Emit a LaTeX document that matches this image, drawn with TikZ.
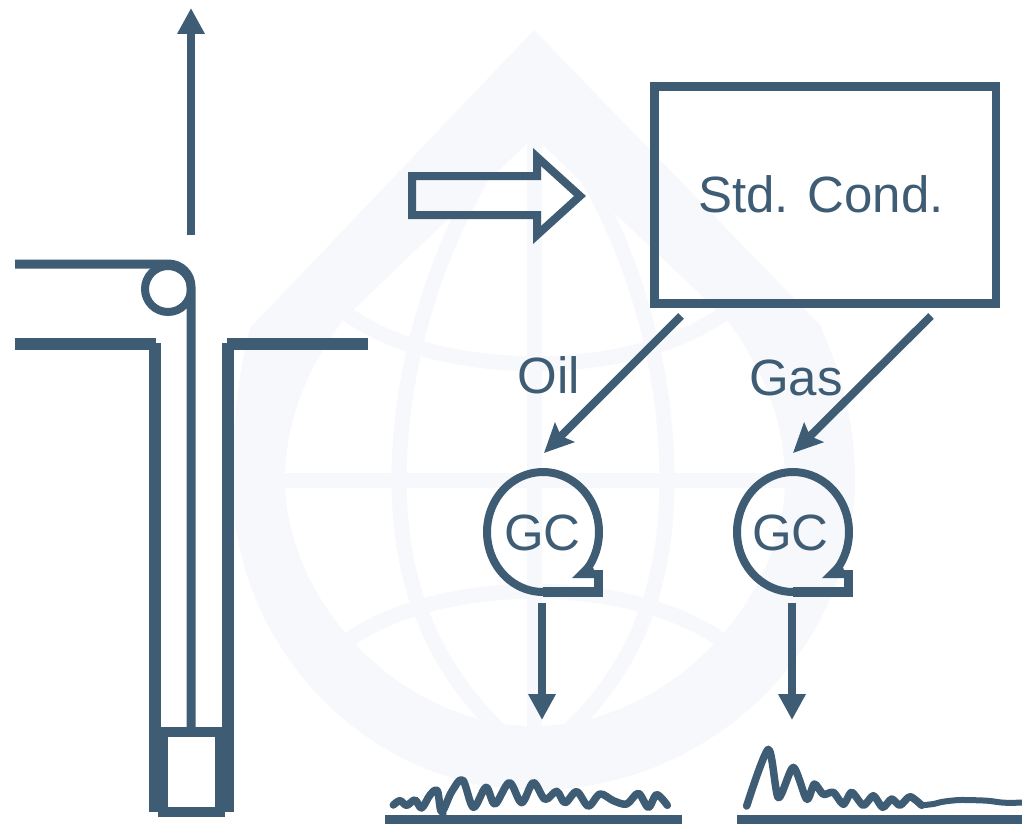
\documentclass[tikz,border=0pt]{standalone}
\usepackage{fontspec}
\setmainfont{Liberation Sans}
\usetikzlibrary{arrows.meta,calc}
\definecolor{ink}{HTML}{3E5C74}
\definecolor{faint}{HTML}{F7F8FB}
\tikzset{
  pipe/.style={draw=ink,line width=#1},
  pipe/.default=9,
  flow/.style={draw=ink,line width=8,-{Triangle[length=26,width=26]}},
  slant/.style={draw=ink,line width=8,-{Stealth[length=29,width=27,inset=5]}},
  trace/.style={draw=ink,line width=#1,line join=round,line cap=round},
  trace/.default=7.5,
  lbl/.style={text=ink,font=\fontsize{51}{52}\selectfont,inner sep=0},
  band/.style={draw=faint,line width=15}
}
\begin{document}
\begin{tikzpicture}[x=1pt,y=-1pt]
\useasboundingbox (0,0) rectangle (1022,824);
% watermark
\fill[faint] (534,30) -- (250,328) .. controls (238,375) and (232,430) .. (232,480)
  .. controls (232,650) and (370,790) .. (535,790)
  .. controls (710,790) and (855,650) .. (855,480)
  .. controls (855,420) and (840,370) .. (820,325) -- cycle;
\begin{scope}
\clip (534,137) -- (345,318) .. controls (305,370) and (285,425) .. (285,480)
  .. controls (285,600) and (400,726) .. (534,726)
  .. controls (668,726) and (785,600) .. (785,480)
  .. controls (785,425) and (765,370) .. (725,318) -- cycle;
\fill[white] (200,100) rectangle (900,760);
\draw[band] (534,100) -- (534,760);
\draw[band] (200,480) -- (900,480);
\draw[band] (534,100) .. controls (430,230) and (399,380) .. (399,480) .. controls (399,580) and (430,680) .. (534,760);
\draw[band] (534,100) .. controls (640,230) and (667,380) .. (667,480) .. controls (667,580) and (640,680) .. (534,760);
\draw[band] (330,300) .. controls (420,385) and (650,385) .. (740,300);
\draw[band] (330,655) .. controls (420,570) and (650,570) .. (740,655);
\end{scope}
% well
\node (tophook) at (168,289) [circle,draw=ink,line width=8,minimum size=46,inner sep=0] {};
\coordinate (upstart) at (191,235);
\coordinate (uptip) at (191,8);
\draw[flow,line width=8.5] (upstart) -- (uptip);
\draw[pipe] (15,264) -- (168,264) .. controls (181,264) and (191,274) .. (191,287) -- (191,732);
\draw[pipe=12] (15,344) -- (156,344);
\draw[pipe=12] (155,343) -- (155,812);
\draw[pipe=12] (228,343) -- (228,812);
\draw[pipe=12] (227,344) -- (368,344);
\node (packer) at (191.5,771.5) [draw=ink,line width=10,minimum width=57,minimum height=80,inner sep=0] {};
% block arrow
\draw[draw=ink,line width=8,fill=none] (412,176) -- (537,176) -- (537,157) -- (580,196) -- (537,235) -- (537,215) -- (412,215) -- cycle;
% box
\node (box) at (825.25,195) [draw=ink,line width=8.5,minimum width=341.5,minimum height=217,inner sep=0] {};
\node (boxlabel) at (821,194) [lbl] {Std. Cond.};
% pumps
\foreach \nm/\dx/\tx in {one/0/542.5,two/250/540.5}{
\begin{scope}[shift={(\dx,0)}]
\draw[draw=ink,line width=10,line join=miter] (543,592) -- (598.5,592);
\draw[draw=ink,line width=9] (598.5,597) -- (598.5,570);
\draw[draw=ink,line width=8] plot[domain=90:402,samples=70] ({543+56*cos(\x)},{532+60*sin(\x)});
\fill[ink] (572,578) -- (594,578) -- (594,570) -- (590,560) -- cycle;
\node (gc\nm) at (\tx,533) [lbl] {GC};
\coordinate (gcout\nm) at (542,603);
\coordinate (gctip\nm) at (542,720);
\draw[flow] (gcout\nm) -- (gctip\nm);
\end{scope}
}
\fill[ink] (385,814.5) rectangle (682,824);
\fill[ink] (737,814.5) rectangle (1022,824);
\coordinate (oilstart) at (681,316);
\coordinate (oiltip) at (544,453);
\coordinate (gasstart) at (931,316);
\coordinate (gastip) at (793,453);
\draw[slant] (oilstart) -- (oiltip);
\draw[slant] (gasstart) -- (gastip);
\node (oil) at (549,375) [lbl] {Oil};
\node (gas) at (796,378) [lbl] {Gas};
% chromatograms
\begin{scope}[shift={(380,730)},scale=1/3]
\draw[trace] plot[smooth,tension=0.55] coordinates {(40,225)(60,212)(80,226)(105,210)(125,234)(150,195)(172,182)(185,245)(215,185)(248,150)(280,232)(318,172)(345,222)(388,158)(425,218)(460,158)(495,208)(530,184)(555,218)(590,185)(625,228)(660,192)(700,212)(740,222)(775,190)(805,232)(830,194)(862,226)};
\draw[ink,line width=7] (186,240) -- (190,256);
\end{scope}
\begin{scope}[shift={(720,730)},scale=1/3]
\draw[trace=7.5] plot[smooth,tension=0.45] coordinates {(80,228)(145,58)(175,203)(220,112)(260,208)(283,162)(310,193)(340,187)(370,223)(395,187)(430,226)(460,197)(488,232)(515,207)(540,226)(570,200)(605,226)};
\draw[trace=6] plot[smooth,tension=0.45] coordinates {(605,226)(640,222)(670,215)(720,210)(800,212)(850,218)(906,218)};
\end{scope}
\end{tikzpicture}
\end{document}
